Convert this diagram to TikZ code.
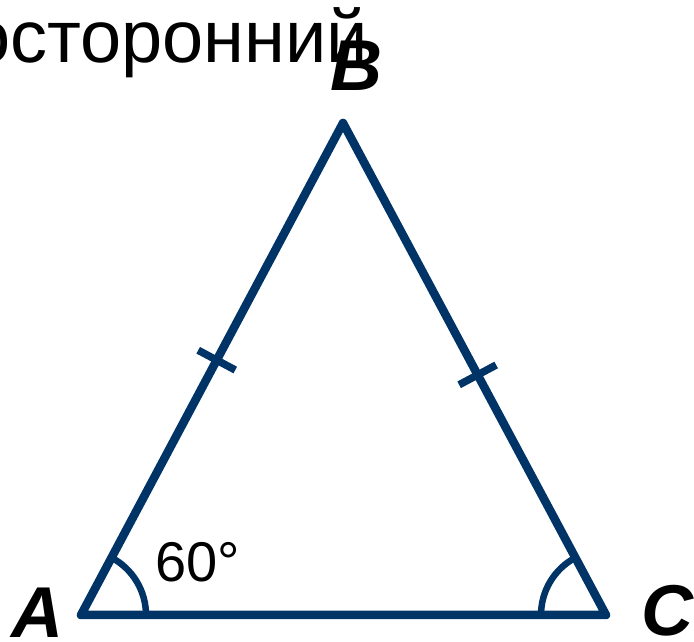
\documentclass[tikz,border=0pt]{standalone}
\usepackage{fontspec}
\setmainfont{Liberation Sans}
\usetikzlibrary{calc}
\definecolor{navy}{RGB}{0,51,102}
\tikzset{
  side/.style={draw=navy, line width=8.5pt, line join=round, line cap=round},
  tickmark/.style={draw=navy, line width=7.5pt},
  anglearc/.style={draw=navy, line width=6.5pt},
  vlabel/.style={inner sep=0pt, anchor=base, font=\fontsize{72}{82}\selectfont\bfseries\itshape},
}
\begin{document}
\begin{tikzpicture}[x=1pt,y=1pt]
\useasboundingbox (0,0) rectangle (694,642);
\coordinate (A) at (81,27);
\coordinate (B) at (343,519);
\coordinate (C) at (606,27);
\node[inner sep=0pt, anchor=base west, font=\fontsize{74}{90}\selectfont] (title) at (-31,579) {осторонний};
\draw[side] (A) -- (B) -- (C) -- cycle;
\path (A) -- (B) coordinate[pos=0.518] (m1);
\path (B) -- (C) coordinate[pos=0.512] (m2);
\draw[tickmark] ($(m1)!21pt!90:(B)$) -- ($(m1)!21pt!-90:(B)$);
\draw[tickmark] ($(m2)!21pt!90:(C)$) -- ($(m2)!21pt!-90:(C)$);
\draw[anglearc] ($(A)+(65,0)$) arc[start angle=0, end angle=62, radius=65];
\draw[anglearc] ($(C)+(-65,0)$) arc[start angle=180, end angle=118, radius=65];
\node[vlabel] (lB) at (356,551) {B};
\node[vlabel] (lA) at (37,4) {A};
\node[vlabel] (lC) at (667,6) {C};
\node[inner sep=0pt, anchor=base west, font=\fontsize{56}{66}\selectfont] (ang) at (155,60) {60°};
\end{tikzpicture}
\end{document}
